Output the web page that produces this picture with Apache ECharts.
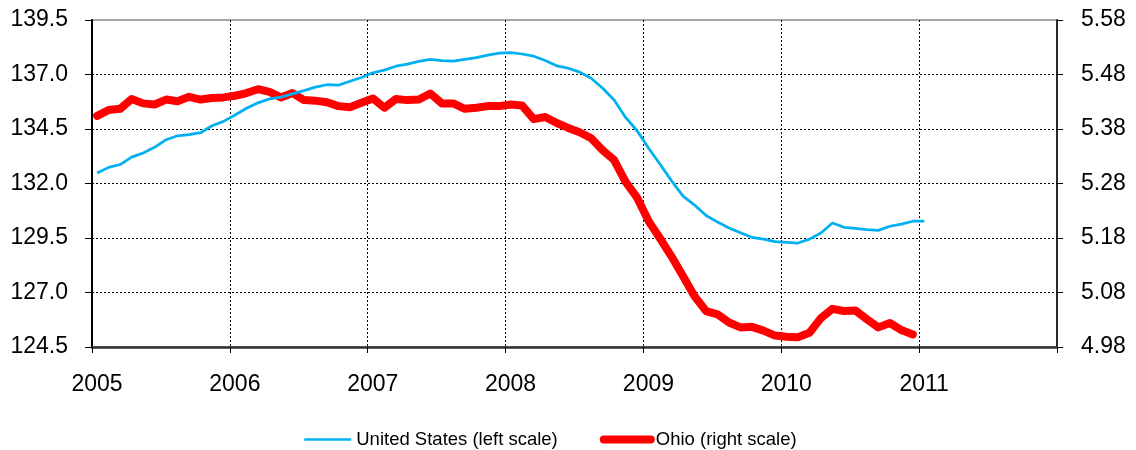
<!DOCTYPE html>
<html>
<head>
<meta charset="utf-8">
<title>United States vs Ohio</title>
<script src="https://cdn.jsdelivr.net/npm/echarts@6/dist/echarts.min.js"></script>
<style>
    html, body { margin: 0; padding: 0; background: #fff; }
    #myChart { width: 1136px; height: 450px; }
</style>
</head>
<body>
<div id="myChart"></div>
<script>
    /////////////////////////
    // data, one value per month starting Jan 2005

    var startYear = 2005;

    // United States (left scale), Jan 2005 - Jan 2011
    var usValues = [
        132.48, 132.74, 132.87, 133.21, 133.40, 133.66, 134.01, 134.19, 134.24, 134.33, 134.65, 134.85,
        135.14, 135.45, 135.70, 135.88, 135.96, 136.11, 136.26, 136.42, 136.53, 136.51, 136.69, 136.86,
        137.08, 137.20, 137.38, 137.48, 137.60, 137.69, 137.64, 137.61, 137.69, 137.77, 137.89, 137.98,
        138.00, 137.94, 137.84, 137.64, 137.40, 137.29, 137.11, 136.83, 136.37, 135.83, 135.03, 134.42,
        133.62, 132.88, 132.12, 131.42, 131.01, 130.53, 130.23, 129.96, 129.74, 129.53, 129.45, 129.33,
        129.30, 129.27, 129.45, 129.73, 130.19, 129.99, 129.94, 129.88, 129.85, 130.04, 130.14, 130.27,
        130.27
    ];

    // Ohio (right scale), Jan 2005 - Dec 2010
    var ohioValues = [
        5.404, 5.415, 5.417, 5.435, 5.427, 5.425, 5.434, 5.431, 5.439, 5.434, 5.437, 5.438,
        5.441, 5.446, 5.453, 5.448, 5.438, 5.446, 5.433, 5.432, 5.429, 5.422, 5.420, 5.428,
        5.436, 5.419, 5.435, 5.433, 5.434, 5.445, 5.427, 5.427, 5.417, 5.419, 5.422, 5.422,
        5.425, 5.423, 5.398, 5.402, 5.391, 5.382, 5.374, 5.363, 5.341, 5.323, 5.283, 5.254,
        5.211, 5.179, 5.146, 5.110, 5.073, 5.046, 5.040, 5.025, 5.016, 5.017, 5.010, 5.001,
        4.999, 4.998, 5.006, 5.033, 5.050, 5.046, 5.047, 5.031, 5.016, 5.024, 5.011, 5.003
    ];

    var seriesNames = ['United States (left scale)', 'Ohio (right scale)'];
    var seriesColors = ['#00b0f0', '#ff0000'];

    // axis ticks
    var yearTicks = [2005, 2006, 2007, 2008, 2009, 2010, 2011, 2012];
    var leftTicks = [124.5, 127.0, 129.5, 132.0, 134.5, 137.0, 139.5];
    var rightTicks = [4.98, 5.08, 5.18, 5.28, 5.38, 5.48, 5.58];

    /////////////////////////

    var myChart;
    var fontName = '"Liberation Sans", Arial, sans-serif';

    function getMyChart() {
        if (myChart != undefined) {
            return myChart;
        }
        myChart = echarts.init(document.getElementById('myChart'), null, {renderer: 'canvas'});
        return myChart;
    }

    // monthly values -> [decimal year, value], point sits in the middle of its month
    function toPoints(values) {
        var d = [];
        for (var i = 0; i < values.length; i++) {
            d.push([startYear + (i + 0.45) / 12, values[i]]);
        }
        return d;
    }

    function gridLine() {
        return {show: true, showMinLine: false, showMaxLine: false,
                lineStyle: {color: '#000', width: 1, type: [2, 2]}};
    }

    function makeOptions() {
        var first = yearTicks[0], last = yearTicks[yearTicks.length - 1];
        var option = {
            animation: false,
            textStyle: {fontFamily: fontName},
            grid: {
                left: 92, right: 79, top: 20, bottom: 103,
                show: true, borderColor: '#a6a6a6', borderWidth: 2
            },
            legend: {
                // no marker in the middle of the legend lines
                data: [
                    {name: seriesNames[0], itemStyle: {color: 'rgba(0,0,0,0)', borderWidth: 0},
                     lineStyle: {color: seriesColors[0], width: 2.5}},
                    {name: seriesNames[1], itemStyle: {color: 'rgba(0,0,0,0)', borderWidth: 0},
                     lineStyle: {color: seriesColors[1], width: 8, cap: 'round'}}
                ],
                top: 430,
                left: 303,
                padding: 0,
                itemWidth: 47,
                itemHeight: 14,
                itemGap: 42,
                textStyle: {fontSize: 18.5, color: '#000', fontFamily: fontName}
            },
            xAxis: {
                type: 'value',
                min: first,
                max: last,
                interval: 1,
                axisLine: {onZero: false, lineStyle: {color: '#333', width: 2.5}},
                axisTick: {show: true, length: 6, inside: false, lineStyle: {color: '#000'}},
                axisLabel: {
                    margin: 26, fontSize: 23, color: '#000', padding: [0, 0, 0, 10],
                    formatter: function (v) { return v >= last ? '' : String(v); }
                },
                splitLine: gridLine()
            },
            yAxis: [
                {
                    type: 'value',
                    position: 'left',
                    min: leftTicks[0],
                    max: leftTicks[leftTicks.length - 1],
                    interval: 2.5,
                    axisLine: {show: true, lineStyle: {color: '#000', width: 2}},
                    axisTick: {show: true, length: 7, lineStyle: {color: '#000'}},
                    axisLabel: {
                        margin: 24, fontSize: 23, color: '#000',
                        formatter: function (v) { return v.toFixed(1); }
                    },
                    splitLine: gridLine()
                },
                {
                    type: 'value',
                    position: 'right',
                    min: rightTicks[0],
                    max: rightTicks[rightTicks.length - 1],
                    interval: 0.1,
                    axisLine: {show: true, lineStyle: {color: '#000', width: 1.5}},
                    axisTick: {show: true, length: 6, lineStyle: {color: '#000'}},
                    axisLabel: {
                        margin: 24, fontSize: 23, color: '#000',
                        formatter: function (v) { return v.toFixed(2); }
                    },
                    splitLine: {show: false}
                }
            ],
            series: [
                {
                    name: seriesNames[0],
                    type: 'line',
                    yAxisIndex: 0,
                    symbol: 'none',
                    z: 3,
                    lineStyle: {color: seriesColors[0], width: 2.75},
                    itemStyle: {color: seriesColors[0]},
                    data: toPoints(usValues)
                },
                {
                    name: seriesNames[1],
                    type: 'line',
                    yAxisIndex: 1,
                    symbol: 'none',
                    z: 2,
                    lineStyle: {color: seriesColors[1], width: 8, cap: 'round', join: 'round'},
                    itemStyle: {color: seriesColors[1]},
                    data: toPoints(ohioValues)
                }
            ]
        };
        return option;
    }

    function init() {
        getMyChart().setOption(makeOptions());
    }

    init();
</script>
</body>
</html>
